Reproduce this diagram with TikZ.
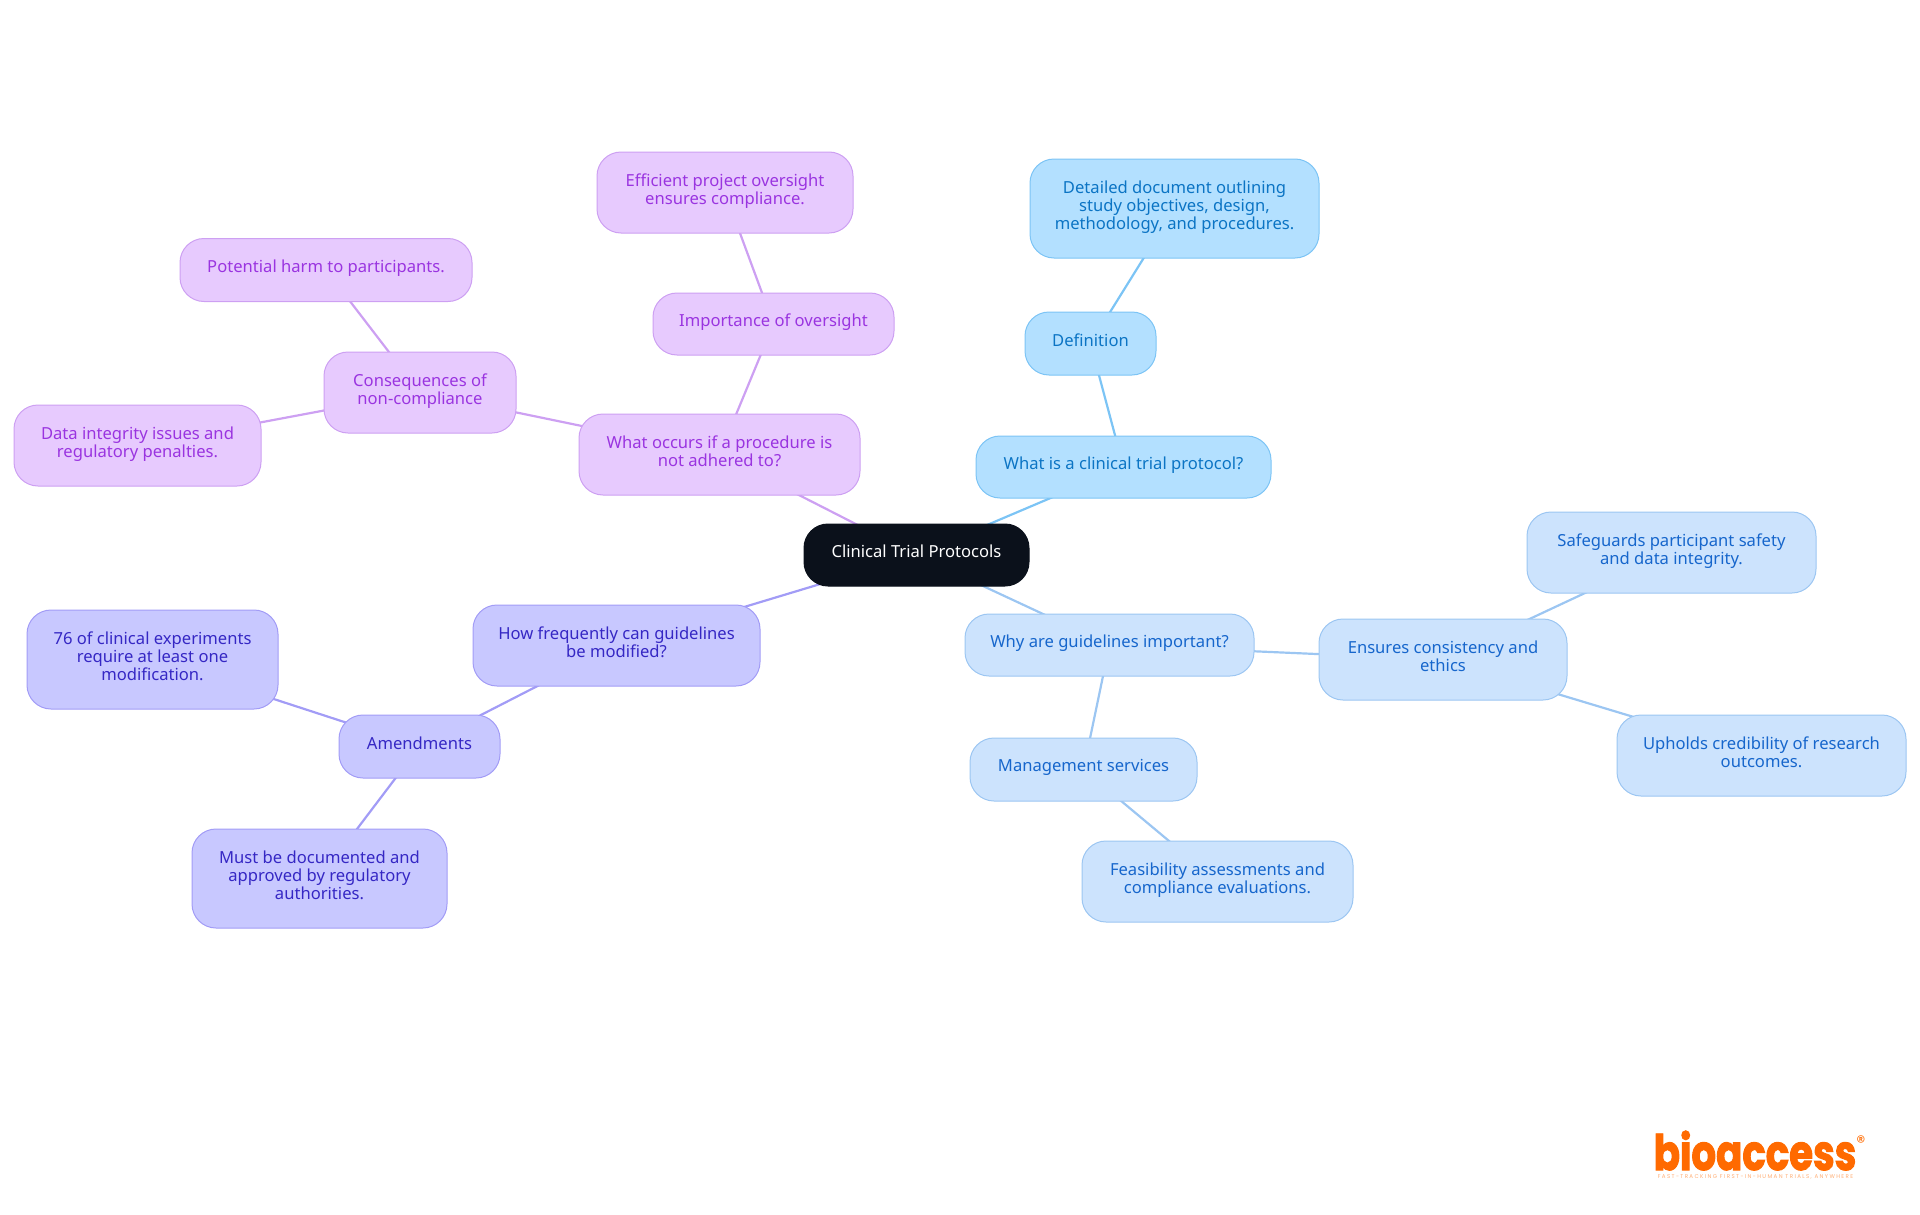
\documentclass[tikz,border=0pt]{standalone}
\usepackage{fontspec}
\setmainfont{Noto Sans}
\newfontfamily\logofont[FakeStretch=0.79, FakeBold=2]{Poppins}
\newfontfamily\tagfont[LetterSpace=25]{Poppins}
\usepackage{tikz}
\usetikzlibrary{backgrounds}

\definecolor{rootfill}{HTML}{0B111B}
\definecolor{skyfill}{HTML}{B3E0FF}
\definecolor{skyline}{HTML}{7CC4F5}
\definecolor{skytext}{HTML}{0B74C4}
\definecolor{bluefill}{HTML}{CCE3FD}
\definecolor{blueline}{HTML}{9CC6F2}
\definecolor{bluetext}{HTML}{1666CC}
\definecolor{pinkfill}{HTML}{E7CAFE}
\definecolor{pinkline}{HTML}{CDA0F2}
\definecolor{pinktext}{HTML}{9A34E0}
\definecolor{indigofill}{HTML}{C8C8FF}
\definecolor{indigoline}{HTML}{A29CF6}
\definecolor{indigotext}{HTML}{3527C4}
\definecolor{logoorange}{HTML}{FF6A00}

\newcommand{\mapstrut}{\rule[-7.4pt]{0pt}{18pt}}

\tikzset{
  mapbox/.style={rectangle, rounded corners=24pt, inner sep=0pt, align=center, line width=1pt, font=\fontsize{16.6}{18}\selectfont, execute at begin node=\mapstrut, execute at end node=\mapstrut},
  rootbox/.style={mapbox, draw=rootfill, fill=rootfill, text=white},
  skybox/.style={mapbox, draw=skyline, fill=skyfill, text=skytext},
  bluebox/.style={mapbox, draw=blueline, fill=bluefill, text=bluetext},
  pinkbox/.style={mapbox, draw=pinkline, fill=pinkfill, text=pinktext},
  indigobox/.style={mapbox, draw=indigoline, fill=indigofill, text=indigotext},
  size/.style n args={2}{minimum width=#1pt, minimum height=#2pt},
  every edge/.append style={line width=2.2pt}
}

\begin{document}
\begin{tikzpicture}[x=1pt, y=-1pt, auto]
\useasboundingbox (0,0) rectangle (1920,1215);

\node[rootbox, size={225}{62}]    	(Root) at (916.5,555)   {Clinical Trial Protocols};

\node[skybox, size={295}{62}]    	(What) at (1123.5,467)   {What is a clinical trial protocol?};
\node[skybox, size={131}{63}]    	(Def) at (1090.5,343.5)   {Definition};
\node[skybox, size={289}{99}]    	(Doc) at (1174.5,208.5)   {Detailed document outlining\\study objectives, design,\\methodology, and procedures.};

\node[bluebox, size={289}{62}]    	(Why) at (1109.5,645)   {Why are guidelines important?};
\node[bluebox, size={248}{81}]    	(Ensures) at (1443,659.5)   {Ensures consistency and\\ethics};
\node[bluebox, size={289}{81}]    	(Safe) at (1671.5,552.5)   {Safeguards participant safety\\and data integrity.};
\node[bluebox, size={289}{81}]    	(Upholds) at (1761.5,755.5)   {Upholds credibility of research\\outcomes.};
\node[bluebox, size={227}{63}]    	(Manage) at (1083.5,769.5)   {Management services};
\node[bluebox, size={271}{81}]    	(Feas) at (1217.5,881.5)   {Feasibility assessments and\\compliance evaluations.};

\node[pinkbox, size={281}{81}]    	(Occurs) at (719.5,454.5)   {What occurs if a procedure is\\not adhered to?};
\node[pinkbox, size={241}{62}]    	(Over) at (773.5,324)   {Importance of oversight};
\node[pinkbox, size={256}{81}]    	(Eff) at (725,192.5)   {Efficient project oversight\\ensures compliance.};
\node[pinkbox, size={192}{81}]    	(Cons) at (420,392.5)   {Consequences of\\non-compliance};
\node[pinkbox, size={292}{63}]    	(Harm) at (326,270)   {Potential harm to participants.};
\node[pinkbox, size={247}{81}]    	(Data) at (137.5,445.5)   {Data integrity issues and\\regulatory penalties.};

\node[indigobox, size={287}{81}]    	(How) at (616.5,645.5)   {How frequently can guidelines\\be modified?};
\node[indigobox, size={161}{63}]    	(Amend) at (419.5,746.5)   {Amendments};
\node[indigobox, size={251}{99}]    	(Most) at (152.5,659.5)   {76 of clinical experiments\\require at least one\\modification.};
\node[indigobox, size={255}{99}]    	(Must) at (319.5,878.5)   {Must be documented and\\approved by regulatory\\authorities.};

\node[text=logoorange, inner sep=0pt, anchor=base, font=\logofont\bfseries\fontsize{49}{49}\selectfont]    	(Logo) at (1755,1170)   {bioaccess};
\node[text=logoorange, inner sep=0pt, font=\tagfont\fontsize{18}{18}\selectfont]    	(Reg) at (1861,1142)   {®};
\node[text=logoorange!55, inner sep=0pt, font=\tagfont\fontsize{5.5}{6}\selectfont]    	(Tag) at (1755.5,1177)   {FAST-TRACKING FIRST-IN-HUMAN TRIALS, ANYWHERE};

\begin{scope}[on background layer]
\path[draw=skyline]
(Root.center) edge     	(What.center)
(What.center) edge     	(Def.center)
(Def.center) edge     	(Doc.center);
\path[draw=blueline]
(Root.center) edge     	(Why.center)
(Why.center) edge     	(Ensures.center)
(Ensures.center) edge     	(Safe.center)
(Ensures.center) edge     	(Upholds.center)
(Why.center) edge     	(Manage.center)
(Manage.center) edge     	(Feas.center);
\path[draw=pinkline]
(Root.center) edge     	(Occurs.center)
(Occurs.center) edge     	(Over.center)
(Over.center) edge     	(Eff.center)
(Occurs.center) edge     	(Cons.center)
(Cons.center) edge     	(Harm.center)
(Cons.center) edge     	(Data.center);
\path[draw=indigoline]
(Root.center) edge     	(How.center)
(How.center) edge     	(Amend.center)
(Amend.center) edge     	(Most.center)
(Amend.center) edge     	(Must.center);
\end{scope}

\end{tikzpicture}
\end{document}
